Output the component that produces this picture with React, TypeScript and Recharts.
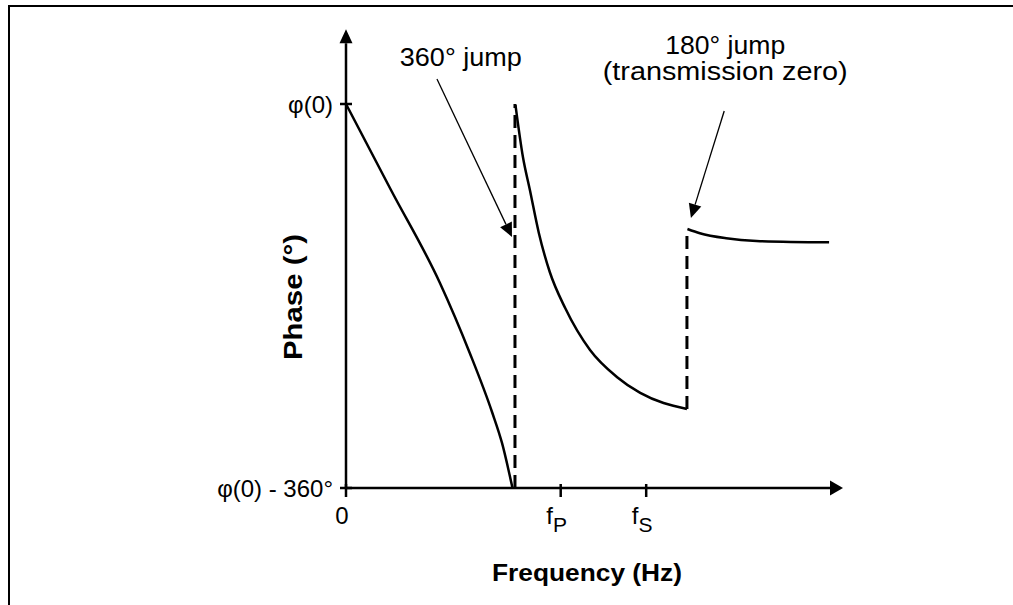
import { ComposedChart, Line, XAxis, YAxis, ReferenceLine, ReferenceDot } from 'recharts'

const FONT = '"Liberation Sans", Arial, Helvetica, sans-serif'

// axis ticks
const freqTicks = [0, 43.2, 60.4]
const freqTickMain = ['0', 'f', 'f']
const freqTickSub = ['', 'P', 'S']
const phaseTicks = [-360, 0]
const phaseTickLabels = ['φ(0) - 360°', 'φ(0)']

// phase branches (deg relative to phi(0)), frequency in arbitrary units
const branch1Freq = [0, 9.05, 18.9, 24.9, 29.4, 31.4, 33.5]
const branch1Phase = [0, -80.6, -167.8, -233.4, -289, -318, -360]
const branch2Freq = [34.1, 35.6, 37.0, 38.8, 41.0, 44.1, 49.1, 54.5, 59.2, 68.6]
const branch2Phase = [-1, -49.7, -80.6, -120.9, -157.5, -191.3, -230.6, -255.9, -270.9, -285.9]
const branch3Freq = [68.7, 71.2, 76.5, 82.6, 97.2]
const branch3Phase = [-117.2, -121.2, -125.9, -128.4, -129.7]

// the two jumps
const jump1Freq = [34, 34]
const jump1Phase = [-360, 0]
const jump2Freq = [68.6, 68.6]
const jump2Phase = [-285.9, -117.2]

const toRows = (fs: number[], ps: number[]) => fs.map((f, i) => ({ freq: f, phase: ps[i] }))

const arrow = (p: any, len: number, half: number, width: number) => {
  const { x1, y1, x2, y2 } = p
  const dx = x2 - x1
  const dy = y2 - y1
  const d = Math.hypot(dx, dy) || 1
  const ux = dx / d
  const uy = dy / d
  const bx = x2 - ux * len
  const by = y2 - uy * len
  const pts = `${x2},${y2} ${bx - uy * half},${by + ux * half} ${bx + uy * half},${by - ux * half}`
  return (
    <g>
      <line x1={x1} y1={y1} x2={bx} y2={by} stroke="#000" strokeWidth={width} />
      <polygon points={pts} fill="#000" />
    </g>
  )
}

const FreqTick = (props: any) => {
  const { x, y, index } = props
  return (
    <g>
      <line x1={x} y1={y - 4} x2={x} y2={y + 9} stroke="#000" strokeWidth={2.5} />
      <text x={x - 4} y={y + 36} textAnchor="middle" fontSize={24} fontFamily={FONT} fill="#000">
        {freqTickMain[index]}
        {freqTickSub[index] && (
          <tspan dy={8} fontSize={21}>{freqTickSub[index]}</tspan>
        )}
      </text>
    </g>
  )
}

const PhaseTick = (props: any) => {
  const { x, y, index } = props
  return (
    <g>
      <line x1={x - 6} y1={y} x2={x + 6} y2={y} stroke="#000" strokeWidth={2.5} />
      <text x={x - 13} y={y + 9} textAnchor="end" fontSize={24} fontFamily={FONT} fill="#000">
        {phaseTickLabels[index]}
      </text>
    </g>
  )
}

const note = (lines: string[], lengths: number[], size: number) => (p: any) => (
  <g>
    {lines.map((t, i) => (
      <text
        key={i}
        x={p.cx}
        y={p.cy + i * 26}
        textAnchor="middle"
        fontSize={size}
        fontFamily={FONT}
        fill="#000"
        textLength={lengths[i]}
        lengthAdjust="spacingAndGlyphs"
      >
        {t}
      </text>
    ))}
  </g>
)

export default function App() {
  return (
    <div style={{ position: 'absolute', left: 0, top: 0, width: 1013, height: 605, background: '#fff' }}>
      <div
        style={{
          position: 'absolute',
          left: 8,
          top: 5,
          width: 1020,
          height: 620,
          borderTop: '2.5px solid #000',
          borderLeft: '2.5px solid #000',
        }}
      />
      <ComposedChart width={1013} height={605} margin={{ top: 29.33, right: 170, bottom: 0, left: 246 }}>
        <XAxis
          dataKey="freq"
          type="number"
          domain={[0, 100]}
          ticks={freqTicks}
          interval={0}
          axisLine={false}
          tickLine={false}
          tickSize={0}
          tickMargin={0}
          height={117}
          tick={<FreqTick />}
          label={{
            content: (lp: any) => {
              const vb = lp.viewBox
              return (
                <text
                  x={vb.x + vb.width / 2 - 7.5}
                  y={581}
                  textAnchor="middle"
                  fontSize={24}
                  fontWeight="bold"
                  fontFamily={FONT}
                  textLength={190}
                  lengthAdjust="spacingAndGlyphs"
                >
                  Frequency (Hz)
                </text>
              )
            },
          }}
        />
        <YAxis
          dataKey="phase"
          type="number"
          domain={[-360, 70]}
          ticks={phaseTicks}
          interval={0}
          axisLine={false}
          tickLine={false}
          tickSize={0}
          tickMargin={0}
          width={100}
          tick={<PhaseTick />}
          label={{
            content: () => (
              <text
                x={302}
                y={297}
                transform="rotate(-90 302 297)"
                textAnchor="middle"
                fontSize={25}
                fontWeight="bold"
                fontFamily={FONT}
                textLength={126}
                lengthAdjust="spacingAndGlyphs"
              >
                Phase (°)
              </text>
            ),
          }}
        />
        {/* axes with arrow heads */}
        <ReferenceLine segment={[{ x: 0, y: -360 }, { x: 100, y: -360 }]} shape={(p: any) => arrow(p, 13, 7.5, 2.5)} />
        <ReferenceLine segment={[{ x: 0, y: -360 }, { x: 0, y: 70 }]} shape={(p: any) => arrow(p, 14, 6.5, 2.5)} />

        <Line data={toRows(branch1Freq, branch1Phase)} dataKey="phase" type="monotone" stroke="#000" strokeWidth={2.5} dot={false} isAnimationActive={false} />
        <Line data={toRows(branch2Freq, branch2Phase)} dataKey="phase" type="monotone" stroke="#000" strokeWidth={2.5} dot={false} isAnimationActive={false} />
        <Line data={toRows(branch3Freq, branch3Phase)} dataKey="phase" type="monotone" stroke="#000" strokeWidth={2.5} dot={false} isAnimationActive={false} />
        <Line data={toRows(jump1Freq, jump1Phase)} dataKey="phase" type="linear" stroke="#000" strokeWidth={3} strokeDasharray="13 7" dot={false} isAnimationActive={false} />
        <Line data={toRows(jump2Freq, jump2Phase)} dataKey="phase" type="linear" stroke="#000" strokeWidth={3} strokeDasharray="13 7" dot={false} isAnimationActive={false} />

        {/* annotations */}
        <ReferenceLine segment={[{ x: 18.3, y: 23.4 }, { x: 33.4, y: -124.7 }]} shape={(p: any) => arrow(p, 14, 6.5, 1.3)} />
        <ReferenceLine segment={[{ x: 76.1, y: -6.6 }, { x: 69.4, y: -106.9 }]} shape={(p: any) => arrow(p, 14, 6.5, 1.3)} />
        <ReferenceDot x={23.1} y={35.6} r={0} shape={note(['360° jump'], [122], 25)} />
        <ReferenceDot x={76.3} y={47.3} r={0} shape={note(['180° jump', '(transmission zero)'], [120, 245], 25)} />
      </ComposedChart>
    </div>
  )
}
